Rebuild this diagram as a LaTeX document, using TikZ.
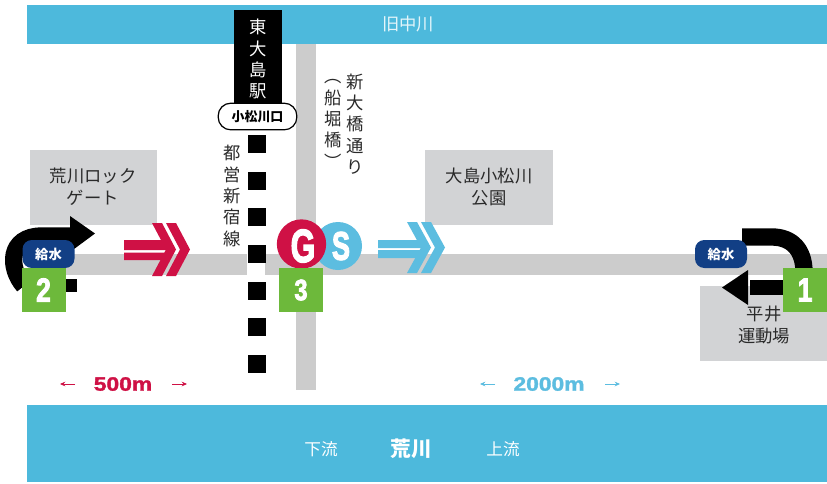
\documentclass[tikz,border=0pt]{standalone}
\usepackage{fontspec}
\setmainfont{Noto Sans CJK JP}
\newfontfamily\latinbold[FakeBold=1.5]{Liberation Sans Bold}
\newfontfamily\latinheavy[FakeBold=3]{Liberation Sans Bold}
\usetikzlibrary{arrows.meta}
\definecolor{river}{HTML}{4DB9DC}
\definecolor{roadgray}{HTML}{CCCCCC}
\definecolor{boxgray}{HTML}{D2D3D5}
\definecolor{redmark}{HTML}{CF1145}
\definecolor{bluemark}{HTML}{5CBDE0}
\definecolor{greenbox}{HTML}{6DB93B}
\definecolor{navy}{HTML}{123F85}
\definecolor{inktext}{HTML}{2A2A2A}
\tikzset{
  x=0.75pt,y=-0.75pt,
  jp/.style={text=inktext,font=\fontsize{13}{16.5}\selectfont,align=center,inner sep=0},
  vert/.style={text=inktext,font=\fontsize{13}{16}\selectfont,align=center,inner sep=0},
  numbox/.style={fill=greenbox,minimum size=33pt,inner sep=0},
  numtext/.style={text=white,font=\latinheavy\fontsize{25}{25}\selectfont,xscale=.8,inner sep=0},
  pilllabel/.style={fill=navy,rounded corners=7pt,minimum width=39pt,minimum height=21pt,inner sep=0,text=white,font=\fontsize{10}{10}\selectfont\bfseries},
  blackturn/.style={draw=black,line width=13pt},
  square/.style={fill=black,minimum size=13.5pt,inner sep=0},
  dist/.style={font=\latinbold\fontsize{14.5}{15}\selectfont,inner sep=0,xscale=1.18},
  tick/.style={-{Stealth[length=4pt,width=3.5pt]},line width=.7pt},
}
\begin{document}
\begin{tikzpicture}
\useasboundingbox (0,0) rectangle (827,483);
\fill[white] (0,0) rectangle (827,483);
% rivers and roads
\fill[river] (27,5) rectangle (827,44);
\fill[river] (27,405) rectangle (827,482);
\fill[roadgray] (296,44) rectangle (316,390);
\fill[roadgray] (40,254) rectangle (827,275);
\fill[white] (247,254) rectangle (265,275);
% gray boxes
\fill[boxgray] (30,150) rectangle (157,225);
\fill[boxgray] (425,150) rectangle (553,225);
\fill[boxgray] (700,286) rectangle (827,361);
\node[jp] (lock) at (93,187) {荒川ロック\\ゲート};
\node[jp] (park) at (489,187) {大島小松川\\公園};
\node[jp] (ground) at (764,325) {平井\\運動場};
% rivers text
\node[text=white!85!river,font=\fontsize{13}{13}\selectfont,inner sep=0] (oldn) at (408,24) {旧中川};
\node[text=white,font=\fontsize{12.5}{13}\selectfont,inner sep=0] (down) at (321,449) {下流};
\node[text=white,font=\fontsize{15.5}{16}\selectfont\bfseries,inner sep=0] (ara) at (411,449) {荒川};
\node[text=white,font=\fontsize{12.5}{13}\selectfont,inner sep=0] (up) at (503,449) {上流};
% station
\fill[black] (234,10) rectangle (282,104);
\node[text=white,font=\fontsize{13}{15.8}\selectfont,align=center,inner sep=0] (st) at (258,59) {東\\大\\島\\駅};
\node[draw=black,line width=.9pt,fill=white,rounded corners=9.5pt,minimum width=59pt,minimum height=20pt,inner sep=0,font=\fontsize{9.7}{10}\selectfont\bfseries] (exit) at (257.5,116.5) {小松川口};
% track
\foreach \n/\yy in {a/144,b/181,c/217,d/254,e/291,f/327,g/364}{
  \node[square] (sq\n) at (256.5,\yy) {};
}
\node[vert] (line) at (232,196) {都\\営\\新\\宿\\線};
\node[vert] (road) at (355,124) {新\\大\\橋\\通\\り};
\node[vert] (road2) at (333,124) {︵\\船\\堀\\橋\\︶};
\node[square,minimum size=9.5pt] (smallsq) at (71,285.5) {};
% black U-turn left
\coordinate (l1) at (24,286);
\coordinate (l2) at (72,236);
\draw[blackturn] (l1) .. controls (8,268) and (8,236) .. (42,236) -- (l2);
\fill[black] (70,216) -- (95,233.5) -- (70,252) -- cycle;
\node[pilllabel] (feedl) at (48.5,254) {給水};
\node[numbox] (n2) at (43.5,290) {};
\node[numtext] (n2t) at (43.5,290) {2};
% black U-turn right
\coordinate (r1) at (742,237);
\coordinate (r2) at (804,272);
\coordinate (r3) at (750,287.5);
\coordinate (r4) at (790,287.5);
\draw[blackturn] (r1) -- (772,237) .. controls (792,237) and (804,250) .. (r2);
\draw[black,line width=11pt] (r4) -- (r3);
\fill[black] (748,270) -- (722,287.5) -- (748,305) -- cycle;
\node[pilllabel] (feedr) at (721,254) {給水};
\node[numbox] (n1) at (805,290) {};
\node[numtext] (n1t) at (805,290) {1};
% red arrow
\fill[redmark] (124,240) rectangle (168,250) (124,252.5) rectangle (168,260);
\fill[redmark] (152,223) -- (162,223) -- (176,249.5) -- (162,276) -- (152,276) -- (166,249.5) -- cycle;
\fill[redmark] (166,223) -- (176,223) -- (190,249.5) -- (176,276) -- (166,276) -- (180,249.5) -- cycle;
% blue arrow
\fill[bluemark] (378,240) rectangle (425,248) (378,250) rectangle (425,258);
\fill[bluemark] (407,222) -- (417,222) -- (431,247.5) -- (417,273) -- (407,273) -- (421,247.5) -- cycle;
\fill[bluemark] (421,222) -- (431,222) -- (445,247.5) -- (431,273) -- (421,273) -- (435,247.5) -- cycle;
% GS
\node[circle,fill=bluemark,minimum size=36pt,inner sep=0] (S) at (338,246) {};
\node[text=white,font=\latinheavy\fontsize{30}{30}\selectfont,xscale=.68,inner sep=0] (Sl) at (341,246) {S};
\node[circle,fill=redmark,minimum size=37pt,inner sep=0] (G) at (301.5,244) {};
\node[text=white,font=\latinheavy\fontsize{35}{35}\selectfont,xscale=.68,inner sep=0] (Gl) at (303,246) {G};
\node[numbox] (n3) at (301,290) {};
\node[numtext,font=\latinheavy\fontsize{22}{22}\selectfont] (n3t) at (301,290) {3};
% distances
\node[dist,text=redmark] (d500) at (123,384) {500m};
\coordinate (d5a) at (75,384); \coordinate (d5b) at (60,384);
\coordinate (d5c) at (172,384); \coordinate (d5d) at (187,384);
\draw[tick,redmark] (d5a) -- (d5b);
\draw[tick,redmark] (d5c) -- (d5d);
\node[dist,text=bluemark] (d2000) at (549,384) {2000m};
\coordinate (d2a) at (495,384); \coordinate (d2b) at (480,384);
\coordinate (d2c) at (605,384); \coordinate (d2d) at (620,384);
\draw[tick,bluemark] (d2a) -- (d2b);
\draw[tick,bluemark] (d2c) -- (d2d);
\end{tikzpicture}
\end{document}
